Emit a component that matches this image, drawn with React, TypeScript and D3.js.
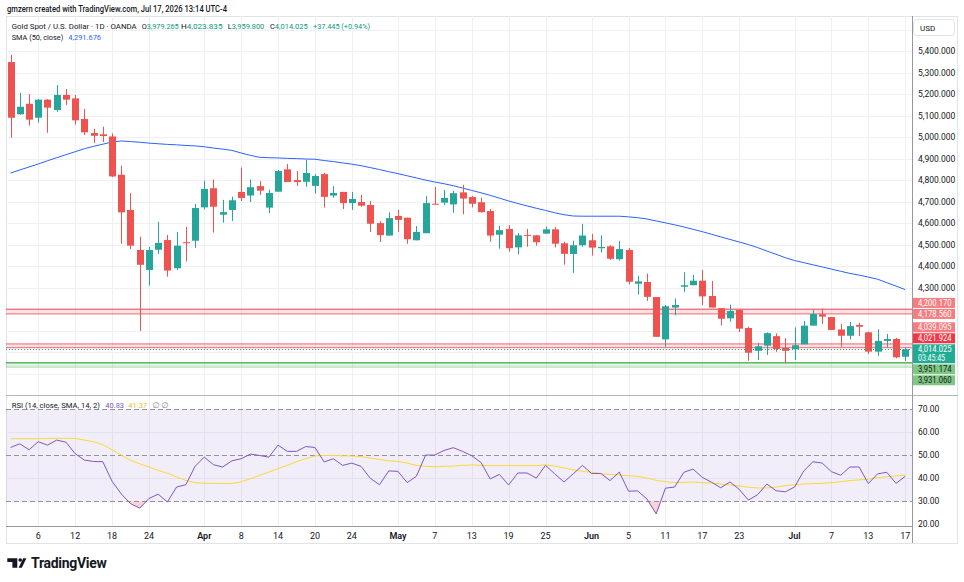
import * as d3 from 'd3';
import React from 'react';

const W = 964;
const H = 582;
const FONT = 'Roboto, "Noto Sans", "DejaVu Sans", sans-serif';

// daily bars, Mar 3 .. Jul 17 (trading days only)
const opens = [5350, 5107, 5156, 5091, 5175, 5127, 5197, 5181, 5085, 5020,
  5014, 5004, 4826, 4662, 4476, 4383, 4477, 4522, 4391, 4512,
  4519, 4674, 4763, 4640, 4662, 4746, 4729, 4773, 4673, 4747,
  4851, 4801, 4793, 4774, 4829, 4729, 4746, 4694, 4699, 4685,
  4601, 4543, 4634, 4626, 4521, 4554, 4691, 4696, 4688, 4744,
  4722, 4698, 4657, 4547, 4574, 4488, 4546, 4544, 4552, 4572,
  4507, 4457, 4498, 4521, 4484, 4493, 4433, 4476, 4319, 4327,
  4257, 4060, 4208, 4305, 4312, 4333, 4262, 4205, 4158, 4197,
  4113, 4007, 4031, 4075, 4020, 4014, 4037, 4124, 4177, 4164,
  4106, 4077, 4127, 4093, 4003, 4053, 4062, 3979.265];
const highs = [5383, 5207, 5201, 5178, 5178, 5243, 5225, 5197, 5132, 5039,
  5049, 5018, 4868, 4740, 4538, 4491, 4607, 4546, 4560, 4583,
  4690, 4798, 4804, 4709, 4724, 4860, 4804, 4796, 4757, 4848,
  4876, 4843, 4895, 4829, 4835, 4773, 4746, 4746, 4732, 4704,
  4610, 4651, 4662, 4626, 4587, 4727, 4769, 4755, 4751, 4779,
  4727, 4719, 4666, 4589, 4592, 4555, 4574, 4546, 4585, 4582,
  4514, 4519, 4597, 4551, 4544, 4498, 4518, 4485, 4354, 4366,
  4257, 4220, 4250, 4372, 4360, 4383, 4332, 4205, 4222, 4197,
  4119, 4043, 4093, 4088, 4066, 4116, 4146, 4197, 4203, 4164,
  4132, 4141, 4137, 4096, 4107, 4085, 4067, 4023.835];
const lows = [4998, 5104, 5054, 5068, 5021, 5119, 5151, 5059, 5011, 4973,
  4978, 4815, 4505, 4480, 4099, 4310, 4458, 4352, 4382, 4422,
  4486, 4665, 4557, 4603, 4611, 4704, 4699, 4732, 4648, 4747,
  4792, 4774, 4770, 4738, 4673, 4719, 4666, 4662, 4677, 4560,
  4513, 4543, 4561, 4505, 4521, 4554, 4688, 4685, 4649, 4642,
  4674, 4649, 4514, 4482, 4468, 4456, 4491, 4496, 4552, 4488,
  4408, 4370, 4491, 4450, 4464, 4430, 4427, 4316, 4269, 4239,
  4072, 4025, 4172, 4281, 4312, 4219, 4208, 4125, 4142, 4094,
  3961, 3964, 3988, 4002, 3949, 3964, 4037, 4124, 4132, 4104,
  4026, 4060, 4075, 3992, 3983, 4022, 3972, 3959.8];
const closes = [5091, 5142, 5082, 5175, 5138, 5197, 5175, 5079, 5023, 5007,
  5006, 4818, 4651, 4496, 4407, 4476, 4509, 4380, 4496, 4510,
  4671, 4760, 4677, 4652, 4707, 4718, 4768, 4752, 4741, 4843,
  4792, 4792, 4834, 4820, 4723, 4741, 4694, 4713, 4682, 4598,
  4545, 4624, 4616, 4526, 4560, 4694, 4688, 4718, 4740, 4715,
  4691, 4652, 4543, 4568, 4484, 4544, 4543, 4512, 4572, 4505,
  4458, 4498, 4543, 4487, 4490, 4435, 4480, 4328, 4330, 4258,
  4072, 4214, 4220, 4312, 4333, 4260, 4208, 4156, 4192, 4110,
  3998, 4028, 4089, 4015, 4007, 4033, 4124, 4178, 4166, 4104,
  4077, 4122, 4119, 4003, 4053, 4062, 3976.58, 4014.025];
const sma50 = [4834, 4848, 4862, 4876, 4891, 4905, 4919, 4933, 4947, 4958,
  4968, 4978, 4983, 4980, 4977, 4973, 4970, 4967, 4965, 4962,
  4960, 4956, 4950, 4945, 4939, 4927, 4916, 4907, 4905, 4904,
  4902, 4901, 4899, 4898, 4892, 4887, 4881, 4875, 4868, 4859,
  4850, 4840, 4831, 4821, 4811, 4801, 4792, 4784, 4775, 4764,
  4753, 4742, 4730, 4717, 4704, 4692, 4681, 4670, 4660, 4649,
  4640, 4634, 4633, 4633, 4633, 4633, 4633, 4630, 4626, 4620,
  4611, 4602, 4593, 4583, 4572, 4561, 4549, 4537, 4525, 4513,
  4501, 4487, 4471, 4456, 4440, 4427, 4417, 4407, 4397, 4387,
  4377, 4367, 4359, 4350, 4340, 4324, 4308, 4291.676];
const rsi = [53.4, 55.0, 52.4, 55.9, 54.4, 56.6, 55.7, 50.7, 47.9, 47.3,
  47.2, 38.7, 33.2, 29.0, 27.0, 31.2, 33.1, 29.7, 36.2, 37.2,
  45.2, 49.2, 45.9, 44.9, 47.6, 48.5, 50.5, 49.9, 49.2, 54.4,
  51.7, 51.7, 53.8, 53.4, 47.1, 48.5, 45.6, 46.6, 45.2, 40.0,
  37.2, 43.2, 43.0, 38.1, 40.9, 50.1, 50.1, 52.1, 53.3, 51.7,
  49.8, 46.9, 39.7, 41.7, 37.1, 42.3, 42.3, 40.1, 45.6, 41.9,
  38.4, 41.9, 45.6, 42.1, 42.1, 39.0, 42.7, 34.4, 34.5, 31.0,
  24.5, 35.7, 36.2, 42.6, 44.0, 40.4, 38.3, 35.9, 38.4, 35.2,
  30.5, 32.9, 37.5, 34.6, 34.1, 36.2, 43.2, 47.2, 46.6, 42.9,
  41.3, 44.9, 44.9, 37.7, 41.9, 42.6, 37.8, 40.83];
const rsiSma = [57.2, 57.2, 57.2, 57.2, 57.3, 57.4, 57.4, 57.3, 56.6, 55.9,
  54.6, 52.4, 50.1, 47.8, 46.3, 44.9, 43.4, 42.2, 40.6, 39.1,
  38.1, 37.8, 37.8, 37.7, 37.7, 38.5, 39.8, 41.3, 42.7, 44.2,
  45.6, 47.2, 48.5, 49.7, 49.9, 49.9, 49.8, 49.7, 49.4, 48.8,
  48.2, 47.6, 47.3, 46.6, 45.6, 45.2, 45.0, 45.2, 45.3, 45.6,
  45.8, 45.6, 45.5, 45.5, 45.5, 45.5, 45.5, 45.5, 45.9, 45.3,
  44.5, 43.7, 43.0, 42.6, 42.0, 41.7, 41.4, 41.1, 40.8, 40.1,
  39.1, 38.5, 38.1, 38.2, 38.4, 38.1, 38.0, 37.5, 37.1, 36.7,
  36.1, 35.8, 35.8, 36.2, 36.8, 37.2, 37.5, 37.7, 37.8, 38.1,
  38.5, 39.0, 39.3, 39.6, 40.3, 40.7, 41.0, 41.37];

const tickIndex = [3, 7, 11, 15, 21, 25, 29, 33, 37, 42, 46, 50, 54, 58, 63, 67, 71, 75, 79, 85, 89, 93, 97];
const tickLabels = ['6', '12', '18', '24', 'Apr', '8', '14', '20', '24', 'May', '7', '13', '19', '25',
  'Jun', '5', '11', '17', '23', 'Jul', '7', '13', '17'];
const monthLabels = ['Apr', 'May', 'Jun', 'Jul'];
const priceTicks = [5400, 5300, 5200, 5100, 5000, 4900, 4800, 4700, 4600, 4500, 4400, 4300];
const rsiTicks = [70, 60, 50, 40, 30, 20];

const bandHigh = [4200.17, 4039.095, 3951.174];
const bandLow = [4178.56, 4021.924, 3931.06];
const bandKind = ['red', 'redLight', 'green'];

const lastPrice = 4014.025;
const lastChange = '+37.445 (+0.94%)';
const countdown = '03:45:45';

const UP = '#26a69a';
const DOWN = '#ef5350';

const fmt3 = d3.format(',.3f');
const fmt2 = d3.format('.2f');

const L = 6;
const R = 912;
const MAIN_TOP = 16;
const MAIN_BOT = 395;
const RSI_BOT = 526;
const AX_BOT = 543;

const fit = { lengthAdjust: 'spacingAndGlyphs' as const };

export default function App() {
  const x = d3.scaleLinear().domain([0, opens.length - 1]).range([10.6, 905.2]);
  const y = d3.scaleLinear().domain([3801.4, 5564.2]).range([MAIN_BOT, MAIN_TOP]);
  const yr = d3.scaleLinear().domain([19.26, 76.2]).range([RSI_BOT, MAIN_BOT]);

  const smaLine = d3.line<number>().x((_, i) => x(i)).y((d) => y(d));
  const rsiLine = d3.line<number>().x((_, i) => x(i)).y((d) => yr(d));
  const osArea = d3.area<number>().x((_, i) => x(i)).y0(yr(30)).y1((d) => yr(d));

  const last = opens.length - 1;

  // right-hand price labels, pushed apart from the live price label
  type Lab = { p: number; lines: string[]; bg: string; fg: string; h: number };
  const labs: Lab[] = [
    { p: bandHigh[0], lines: [fmt3(bandHigh[0])], bg: '#f77c80', fg: '#fff', h: 10 },
    { p: bandLow[0], lines: [fmt3(bandLow[0])], bg: '#f77c80', fg: '#fff', h: 10 },
    { p: bandHigh[1], lines: [fmt3(bandHigh[1])], bg: '#f77c80', fg: '#fff', h: 10 },
    { p: bandLow[1], lines: [fmt3(bandLow[1])], bg: '#f23645', fg: '#fff', h: 10 },
    { p: lastPrice, lines: [fmt3(lastPrice), countdown], bg: '#22ab94', fg: '#fff', h: 19 },
    { p: bandHigh[2], lines: [fmt3(bandHigh[2])], bg: '#81c784', fg: '#131722', h: 10 },
    { p: bandLow[2], lines: [fmt3(bandLow[2])], bg: '#81c784', fg: '#131722', h: 10 },
  ];
  const anchor = 4;
  const tops: number[] = [];
  tops[anchor] = y(lastPrice) - 5;
  for (let i = anchor - 1; i >= 0; i--) {
    const c = Math.min(y(labs[i].p), tops[i + 1] - 1 - labs[i].h / 2);
    tops[i] = c - labs[i].h / 2;
  }
  for (let i = anchor + 1; i < labs.length; i++) {
    const prevBot = tops[i - 1] + labs[i - 1].h;
    const c = Math.max(y(labs[i].p), prevBot + 1 + labs[i].h / 2);
    tops[i] = c - labs[i].h / 2;
  }

  const gridPrices = d3.range(3900, 5600, 100);

  return (
    <svg
      width={W}
      height={H}
      style={{ position: 'absolute', left: 0, top: 0, background: '#fff' }}
      fontFamily={FONT}
    >
      <defs>
        <clipPath id="mainClip">
          <rect x={L} y={MAIN_TOP} width={R - L} height={MAIN_BOT - MAIN_TOP} />
        </clipPath>
        <clipPath id="rsiClip">
          <rect x={L} y={MAIN_BOT} width={R - L} height={RSI_BOT - MAIN_BOT} />
        </clipPath>
        <clipPath id="osClip">
          <rect x={L} y={yr(30)} width={R - L} height={RSI_BOT - yr(30)} />
        </clipPath>
        <linearGradient id="osGrad" x1="0" x2="0" y1="0" y2="1">
          <stop offset="0" stopColor="#f23645" stopOpacity={0.05} />
          <stop offset="1" stopColor="#f23645" stopOpacity={0.25} />
        </linearGradient>
      </defs>

      <rect width={W} height={H} fill="#fff" />

      <text x={7} y={12} fontSize={8.5} fontWeight={500} fill="#131722" textLength={220} {...fit}>
        gmzern created with TradingView.com, Jul 17, 2026 13:14 UTC-4
      </text>

      {/* frame */}
      <rect x={L + 0.5} y={MAIN_TOP + 0.5} width={958 - L - 1} height={AX_BOT - MAIN_TOP} fill="none" stroke="#e0e3eb" />

      {/* grid */}
      <g stroke="#eef0f6" strokeWidth={1}>
        {tickIndex.map((t) => (
          <line key={'vg' + t} x1={Math.round(x(t)) + 0.5} x2={Math.round(x(t)) + 0.5} y1={MAIN_TOP} y2={RSI_BOT} />
        ))}
        {gridPrices.map((p) => (
          <line key={'hg' + p} x1={L} x2={R} y1={Math.round(y(p)) + 0.5} y2={Math.round(y(p)) + 0.5} />
        ))}
        {[60, 40].map((v) => (
          <line key={'rg' + v} x1={L} x2={R} y1={Math.round(yr(v)) + 0.5} y2={Math.round(yr(v)) + 0.5} />
        ))}
      </g>

      {/* main pane */}
      <g clipPath="url(#mainClip)">
        {bandHigh.map((hi, k) => {
          const lo = bandLow[k];
          const green = bandKind[k] === 'green';
          const line = green ? '#4caf50' : '#f23645';
          return (
            <g key={'band' + k}>
              <rect
                x={L}
                y={y(hi)}
                width={R - L}
                height={y(lo) - y(hi)}
                fill={green ? 'rgba(76,175,80,0.16)' : 'rgba(242,54,69,0.14)'}
              />
              <line x1={L} x2={R} y1={y(hi)} y2={y(hi)} stroke={line} strokeOpacity={green ? 0.9 : 0.6} strokeWidth={1.4} />
              <line x1={L} x2={R} y1={y(lo)} y2={y(lo)} stroke={line} strokeOpacity={green ? 0.35 : 0.6} strokeWidth={1.4} />
            </g>
          );
        })}

        <path d={smaLine(sma50) || ''} fill="none" stroke="#2962ff" strokeWidth={1} />

        {opens.map((o, i) => {
          const c = closes[i];
          const col = c >= o ? UP : DOWN;
          const cx = Math.round(x(i));
          const top = y(Math.max(o, c));
          const bh = Math.max(1, y(Math.min(o, c)) - top);
          return (
            <g key={'c' + i}>
              <line x1={cx + 0.5} x2={cx + 0.5} y1={y(highs[i])} y2={y(lows[i])} stroke={col} strokeWidth={1} />
              <rect x={cx - 3} y={top} width={7} height={bh} fill={col} />
            </g>
          );
        })}

        <line
          x1={L}
          x2={R}
          y1={Math.round(y(lastPrice)) + 0.5}
          y2={Math.round(y(lastPrice)) + 0.5}
          stroke="#22ab94"
          strokeWidth={1}
          strokeDasharray="1 2"
        />
      </g>

      {/* legend */}
      <g fontSize={8} fill="#131722">
        <text x={11.7} y={28.6} textLength={125} {...fit}>Gold Spot / U.S. Dollar · 1D · OANDA</text>
        <text x={141.7} y={28.6} textLength={37} {...fit}>O<tspan fill="#089981">{fmt3(opens[last])}</tspan></text>
        <text x={181} y={28.6} textLength={41.5} {...fit}>H<tspan fill="#089981">{fmt3(highs[last])}</tspan></text>
        <text x={227.7} y={28.6} textLength={36.6} {...fit}>L<tspan fill="#089981">{fmt3(lows[last])}</tspan></text>
        <text x={270} y={28.6} textLength={37.7} {...fit}>C<tspan fill="#089981">{fmt3(closes[last])}</tspan></text>
        <text x={313} y={28.6} fill="#089981" textLength={57} {...fit}>{lastChange}</text>
        <text x={11.7} y={40.3} textLength={51.6} {...fit}>SMA (50, close)</text>
        <text x={68.3} y={40.3} fill="#2962ff" textLength={32.7} {...fit}>{fmt3(sma50[last])}</text>
      </g>

      {/* RSI pane */}
      <rect x={L} y={yr(70)} width={R - L} height={yr(30) - yr(70)} fill="rgba(126,87,194,0.1)" />
      <g stroke="#787b86" strokeOpacity={0.8} strokeDasharray="5 3">
        {[70, 50, 30].map((v) => (
          <line key={'rb' + v} x1={L} x2={R} y1={Math.round(yr(v)) + 0.5} y2={Math.round(yr(v)) + 0.5} />
        ))}
      </g>
      <g clipPath="url(#rsiClip)">
        <g clipPath="url(#osClip)">
          <path d={osArea(rsi) || ''} fill="url(#osGrad)" />
        </g>
        <path d={rsiLine(rsiSma) || ''} fill="none" stroke="#fdd835" strokeWidth={1} />
        <path d={rsiLine(rsi) || ''} fill="none" stroke="#7e57c2" strokeWidth={1} />
      </g>
      <g fontSize={8}>
        <text x={11.7} y={408} fill="#131722" textLength={88.3} {...fit}>RSI (14, close, SMA, 14, 2)</text>
        <text x={105.3} y={408} fill="#7e57c2" textLength={18.7} {...fit}>{fmt2(rsi[last])}</text>
        <text x={128.3} y={408} fill="#e3c23a" textLength={18.7} {...fit}>{fmt2(rsiSma[last])}</text>
        <text x={152.5} y={408} fill="#787b86">∅</text>
        <text x={161.5} y={408} fill="#787b86">∅</text>
      </g>

      {/* separators and axes */}
      <line x1={L} x2={958} y1={MAIN_BOT + 0.5} y2={MAIN_BOT + 0.5} stroke="#b2b5be" />
      <line x1={L} x2={R} y1={RSI_BOT + 0.5} y2={RSI_BOT + 0.5} stroke="#9598a1" />
      <line x1={R + 0.5} x2={R + 0.5} y1={MAIN_TOP} y2={AX_BOT} stroke="#9598a1" />

      <g fontSize={8.5} fill="#131722">
        {priceTicks.map((p) => (
          <text key={'pt' + p} x={918} y={y(p) + 3}>{fmt3(p)}</text>
        ))}
        {rsiTicks.map((v) => (
          <text key={'rt' + v} x={918} y={yr(v) + 3}>{fmt2(v)}</text>
        ))}
      </g>

      <rect x={913.5} y={19.5} width={41} height={16} rx={3} fill="#fff" stroke="#e0e3eb" />
      <text x={920} y={30.5} fontSize={8} fill="#131722">USD</text>

      {labs.map((lb, i) => (
        <g key={'lab' + i}>
          <rect x={913} y={tops[i]} width={42} height={lb.h} fill={lb.bg} />
          {lb.lines.map((t, j) => (
            <text
              key={j}
              x={918}
              y={tops[i] + 7.8 + j * 9}
              fontSize={8.2}
              fill={lb.fg}
              textLength={j === 0 ? 33.5 : 27}
              {...fit}
            >
              {t}
            </text>
          ))}
        </g>
      ))}

      <g fontSize={9} fill="#131722" textAnchor="middle">
        {tickIndex.map((t, k) => (
          <text
            key={'xt' + k}
            x={x(t)}
            y={538.5}
            fontWeight={monthLabels.includes(tickLabels[k]) ? 600 : 400}
          >
            {tickLabels[k]}
          </text>
        ))}
      </g>

      {/* TradingView logo */}
      <g fill="#131722">
        <path d="M7.3 558.3 H17.3 V567.7 H12.4 V562 H7.3 Z" />
        <circle cx={20.2} cy={560} r={1.8} />
        <path d="M18.6 567.7 L23.2 558.3 H26.4 L21.8 567.7 Z" />
        <text x={31} y={567.6} fontSize={14} fontWeight={700} letterSpacing={-0.3}>TradingView</text>
      </g>
    </svg>
  );
}
